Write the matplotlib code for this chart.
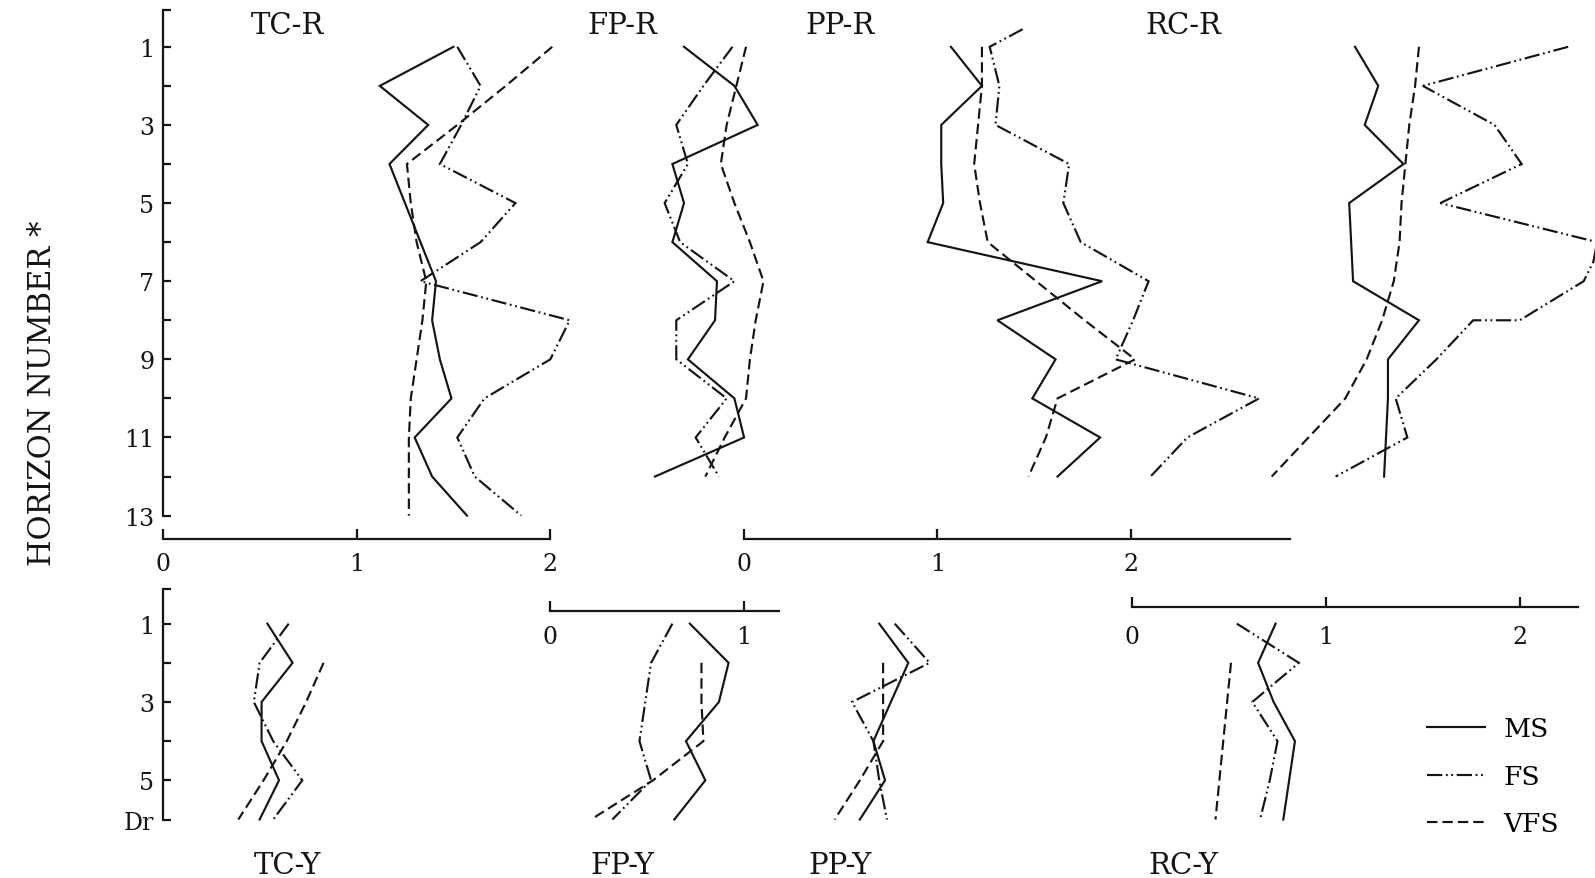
import matplotlib
matplotlib.use('Agg')
import matplotlib.pyplot as plt
from matplotlib.lines import Line2D

plt.rcParams['font.family'] = ['DejaVu Serif', 'DejaVu Sans']
plt.rcParams['lines.scale_dashes'] = False

# ---------------- data ----------------
SERIES = ['MS', 'FS', 'VFS']
TITLES_TOP = ['TC-R', 'FP-R', 'PP-R', 'RC-R']
TITLES_BOT = ['TC-Y', 'FP-Y', 'PP-Y', 'RC-Y']

H13 = list(range(1, 14))
H12 = list(range(1, 13))
H6 = list(range(1, 7))
H6_VFS = list(range(2, 7))

TCR_MS = [1.50, 1.12, 1.37, 1.17, 1.25, 1.33, 1.41, 1.39, 1.43, 1.49, 1.30, 1.39, 1.57]
TCR_FS = [1.52, 1.64, 1.54, 1.43, 1.82, 1.64, 1.33, 2.10, 2.00, 1.66, 1.52, 1.61, 1.85]
TCR_VFS = [2.01, 1.77, 1.52, 1.26, 1.28, 1.31, 1.36, 1.34, 1.31, 1.28, 1.27, 1.27, 1.27]

FPR_MS = [0.69, 0.95, 1.07, 0.63, 0.69, 0.63, 0.86, 0.85, 0.71, 0.95, 1.00, 0.54]
FPR_FS = [0.94, 0.79, 0.65, 0.71, 0.59, 0.67, 0.95, 0.65, 0.65, 0.91, 0.75, 0.87]
FPR_VFS = [1.01, 0.96, 0.91, 0.88, 0.95, 1.03, 1.10, 1.06, 1.03, 1.01, 0.90, 0.80]

PPR_MS = [1.07, 1.23, 1.02, 1.02, 1.03, 0.95, 1.85, 1.31, 1.61, 1.49, 1.84, 1.62]
PPR_FS_H = [0.55, 1, 2, 3, 4, 5, 6, 7, 8, 9, 10, 11, 12]
PPR_FS = [1.44, 1.27, 1.32, 1.30, 1.68, 1.65, 1.74, 2.09, 2.01, 1.92, 2.66, 2.29, 2.10]
PPR_VFS = [1.23, 1.23, 1.21, 1.19, 1.22, 1.26, 1.51, 1.76, 2.02, 1.62, 1.56, 1.47]

RCR_MS = [1.15, 1.27, 1.20, 1.40, 1.12, 1.13, 1.14, 1.48, 1.32, 1.32, 1.31, 1.30]
RCR_FS_H = [1, 2, 3, 4, 5, 6, 6.5, 7, 8, 8, 9, 10, 11, 12]
RCR_FS = [2.25, 1.50, 1.87, 2.01, 1.59, 2.40, 2.38, 2.33, 2.00, 1.76, 1.57, 1.36, 1.42, 1.05]
RCR_VFS = [1.48, 1.46, 1.43, 1.41, 1.39, 1.38, 1.35, 1.29, 1.21, 1.10, 0.91, 0.72]

TCY_MS = [0.54, 0.67, 0.51, 0.51, 0.60, 0.50]
TCY_FS = [0.65, 0.50, 0.47, 0.57, 0.72, 0.57]
TCY_VFS = [0.83, 0.74, 0.64, 0.52, 0.39]

FPY_MS = [0.72, 0.92, 0.87, 0.70, 0.80, 0.64]
FPY_FS = [0.63, 0.52, 0.49, 0.46, 0.52, 0.32]
FPY_VFS = [0.78, 0.78, 0.79, 0.53, 0.21]

PPY_MS = [0.70, 0.85, 0.76, 0.67, 0.73, 0.60]
PPY_FS = [0.78, 0.96, 0.56, 0.67, 0.70, 0.74]
PPY_VFS = [0.72, 0.72, 0.72, 0.60, 0.47]

RCY_MS = [0.74, 0.65, 0.73, 0.84, 0.81, 0.78]
RCY_FS = [0.54, 0.86, 0.62, 0.75, 0.71, 0.66]
RCY_VFS = [0.51, 0.49, 0.47, 0.45, 0.43]

TOP_YTICKS = list(range(1, 14))
TOP_YLABELS = [str(h) if h % 2 == 1 else '' for h in TOP_YTICKS]
BOT_YTICKS = list(range(1, 7))
BOT_YLABELS = ['1', '', '3', '', '5', 'Dr']

# scale bars: (column, row, end of bar, tick values)
SCALES = [(0, 'top', 2.0, [0, 1, 2]),
          (2, 'top', 2.82, [0, 1, 2]),
          (1, 'bot', 1.18, [0, 1]),
          (3, 'bot', 2.30, [0, 1, 2])]

# ---------------- layout (reference pixel geometry) ----------------
W, H = 1568.0, 864.0
U = 190.5                      # pixels per unit of value
COL_X0 = [160, 541, 731, 1113]  # x of value 0 for each column
TOP_Y0, TOP_Y13 = 8.6, 507.8    # y of horizon 0 and 13
BOT_Y0, BOT_Y6 = 575.5, 806.5   # y of horizon 0 and 6
SCALE_Y = {0: 531, 2: 531, 1: 602, 3: 598}
SCALE_PAD = {0: 9, 2: 9, 1: 10, 3: 13}
XMAX = 3.0
INK = '#141414'
LW = 1.55

STYLE = {'MS': '-',
         'FS': (0, (11, 2.6, 1.3, 2.6, 1.3, 2.6)),
         'VFS': (0, (7.5, 3.6))}


def fx(x):
    return x / W


def fy(y):
    return 1 - y / H


fig = plt.figure(figsize=(15.95, 8.79), dpi=100)
fig.patch.set_facecolor('white')

top_data = [
    {'MS': (H13, TCR_MS), 'FS': (H13, TCR_FS), 'VFS': (H13, TCR_VFS)},
    {'MS': (H12, FPR_MS), 'FS': (H12, FPR_FS), 'VFS': (H12, FPR_VFS)},
    {'MS': (H12, PPR_MS), 'FS': (PPR_FS_H, PPR_FS), 'VFS': (H12, PPR_VFS)},
    {'MS': (H12, RCR_MS), 'FS': (RCR_FS_H, RCR_FS), 'VFS': (H12, RCR_VFS)},
]
bot_data = [
    {'MS': (H6, TCY_MS), 'FS': (H6, TCY_FS), 'VFS': (H6_VFS, TCY_VFS)},
    {'MS': (H6, FPY_MS), 'FS': (H6, FPY_FS), 'VFS': (H6_VFS, FPY_VFS)},
    {'MS': (H6, PPY_MS), 'FS': (H6, PPY_FS), 'VFS': (H6_VFS, PPY_VFS)},
    {'MS': (H6, RCY_MS), 'FS': (H6, RCY_FS), 'VFS': (H6_VFS, RCY_VFS)},
]


def make_axes(col, row):
    if row == 'top':
        y_lo, y_hi, hmax = TOP_Y13, TOP_Y0, 13
    else:
        y_lo, y_hi, hmax = BOT_Y6, BOT_Y0, 6
    ax = fig.add_axes([fx(COL_X0[col]), fy(y_lo), XMAX * U / W, (y_lo - y_hi) / H])
    ax.set_xlim(0, XMAX)
    ax.set_ylim(hmax, 0)
    ax.patch.set_alpha(0)
    for s in ax.spines.values():
        s.set_visible(False)
    ax.set_xticks([])
    ax.set_yticks([])
    return ax


for row, datasets in (('top', top_data), ('bot', bot_data)):
    for col, d in enumerate(datasets):
        ax = make_axes(col, row)
        for s in SERIES:
            hs, vals = d[s]
            ax.plot(vals, hs, color=INK, lw=LW, linestyle=STYLE[s],
                    clip_on=False, solid_joinstyle='miter', dash_joinstyle='miter')
        if col == 0:
            ax.spines['left'].set_visible(True)
            ax.spines['left'].set_linewidth(1.6)
            ax.spines['left'].set_color(INK)
            if row == 'top':
                ax.spines['left'].set_bounds(0.07, 13)
                ax.set_yticks([0.07] + TOP_YTICKS)
                ax.set_yticklabels([''] + TOP_YLABELS)
            else:
                ax.spines['left'].set_bounds(0.12, 6)
                ax.set_yticks([0.12] + BOT_YTICKS)
                ax.set_yticklabels([''] + BOT_YLABELS)
            ax.tick_params(axis='y', direction='in', length=6, width=1.6,
                           pad=6, labelsize=17, colors=INK)

# scale bars
for col, row, end, ticks in SCALES:
    yb = SCALE_Y[col]
    sa = fig.add_axes([fx(COL_X0[col]), fy(yb), XMAX * U / W, 0.0005])
    sa.set_xlim(0, XMAX)
    sa.patch.set_alpha(0)
    for k in ('top', 'left', 'right'):
        sa.spines[k].set_visible(False)
    sa.spines['bottom'].set_bounds(0, end)
    sa.spines['bottom'].set_linewidth(1.6)
    sa.spines['bottom'].set_color(INK)
    sa.set_yticks([])
    sa.set_xticks(ticks)
    sa.set_xticklabels([str(t) for t in ticks])
    sa.tick_params(axis='x', direction='in', length=7, width=1.6,
                   pad=SCALE_PAD[col], labelsize=17, colors=INK)

# panel titles
TITLE_X = [283, 612, 826, 1163]
for t, x in zip(TITLES_TOP, TITLE_X):
    fig.text(fx(x), fy(26), t, ha='center', va='center', fontsize=21, color=INK)
for t, x in zip(TITLES_BOT, TITLE_X):
    fig.text(fx(x), fy(851), t, ha='center', va='center', fontsize=21, color=INK)

fig.text(fx(42), fy(387), 'HORIZON NUMBER *', rotation=90, ha='center',
         va='center', fontsize=22, color=INK)

handles = [Line2D([], [], color=INK, lw=LW, linestyle=STYLE[s]) for s in SERIES]
fig.legend(handles, SERIES, loc='center left', bbox_to_anchor=(fx(1403), fy(764)),
           frameon=False, fontsize=19, handlelength=2.2, handletextpad=0.7,
           labelspacing=0.85, borderpad=0, borderaxespad=0)

fig.savefig('out.png', dpi=100, facecolor='white')
